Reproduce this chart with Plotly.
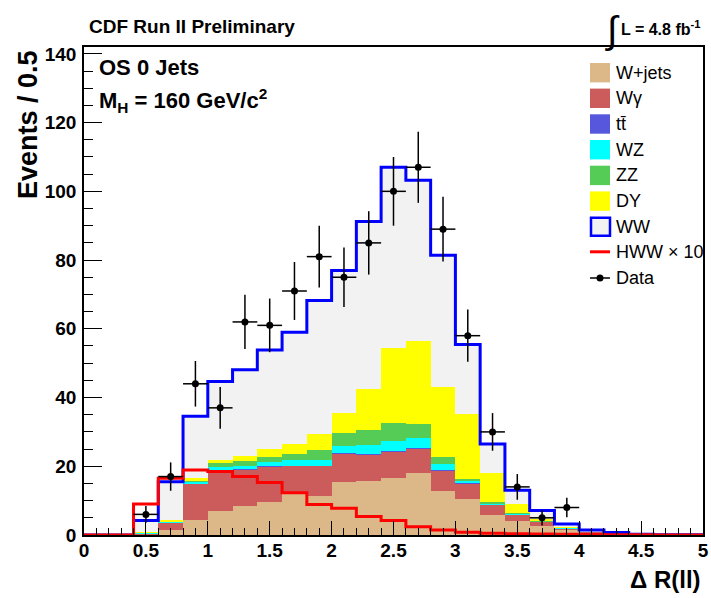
import numpy as np
import plotly.graph_objects as go

# ---------------- data (25 bins of width 0.2 from 0 to 5) ----------------
edges = [round(0.2 * i, 1) for i in range(26)]
centers = [round(0.2 * i + 0.1, 2) for i in range(25)]

w_jets = [0, 0, 0.2, 1.4, 4.5, 7.1, 8.3, 9.5, 11.8, 11.4, 15.3, 15.6, 16.6, 18.0,
          12.9, 10.5, 5.7, 4.1, 2.6, 1.4, 0.6, 0.3, 0.1, 0.05, 0.02]
w_gamma = [0, 0, 0.3, 2.1, 10.4, 11.1, 10.9, 10.5, 8.3, 8.7, 8.4, 7.8, 7.6, 7.3,
           6.0, 4.5, 3.2, 1.9, 1.3, 0.6, 0.3, 0.15, 0.05, 0.03, 0.01]
ttbar = [0, 0, 0.0, 0.05, 0.05, 0.1, 0.1, 0.1, 0.1, 0.1, 0.1, 0.1, 0.1, 0.1,
         0.1, 0.1, 0.05, 0.05, 0.05, 0.0, 0.0, 0.0, 0.0, 0.0, 0.0]
wz = [0, 0, 0.1, 0.25, 0.5, 1.4, 0.8, 1.0, 1.5, 1.6, 2.2, 2.8, 3.1, 2.7,
      1.6, 0.7, 0.35, 0.15, 0.1, 0.1, 0.05, 0.05, 0.0, 0.0, 0.0]
zz = [0, 0, 0.1, 0.2, 0.4, 1.2, 1.3, 1.5, 1.9, 2.9, 3.6, 4.3, 5.2, 4.2,
      2.0, 0.5, 0.2, 0.1, 0.05, 0.05, 0.05, 0.0, 0.0, 0.0, 0.0]
dy = [0, 0, 0.1, 0.4, 0.6, 1.0, 1.5, 2.4, 2.9, 4.7, 5.8, 12.0, 21.7, 24.2,
      20.6, 18.9, 8.6, 2.6, 0.6, 0.25, 0.1, 0.05, 0.05, 0.0, 0.0]
ww = [0, 0, 3.4, 11.1, 18.1, 22.8, 25.2, 28.8, 32.5, 38.8, 41.6, 48.6, 52.7, 46.7,
      38.2, 20.2, 8.4, 4.1, 2.4, 0.8, 0.35, 0.15, 0.05, 0.02, 0.02]
hww_x10 = [0, 0, 9.0, 16.5, 18.9, 18.5, 17.0, 15.3, 12.3, 8.9, 7.8, 5.4, 4.2, 2.4,
           1.45, 0.8, 0.5, 0.4, 0.3, 0.25, 0.15, 0.1, 0.05, 0.03, 0.02]
data = [0, 0, 6, 17, 44, 37, 62, 61, 71, 81, 75, 85, 100, 107,
        89, 58, 30, 14, 5, 8, 0, 0, 0, 0, 0]

x_ticks = [0, 0.5, 1, 1.5, 2, 2.5, 3, 3.5, 4, 4.5, 5]
x_tick_labels = ["0", "0.5", "1", "1.5", "2", "2.5", "3", "3.5", "4", "4.5", "5"]
y_ticks = [0, 20, 40, 60, 80, 100, 120, 140]

components = [
    ("W+jets", w_jets, "#dcb888"),
    ("W\u03b3", w_gamma, "#cc5c5c"),
    ("tt\u0304", ttbar, "#5757dd"),
    ("WZ", wz, "#00ffff"),
    ("ZZ", zz, "#55cc55"),
    ("DY", dy, "#ffff00"),
    ("WW", ww, "#f2f2f2"),
]

FONT = "Liberation Sans, Arial, Helvetica, sans-serif"

fig = go.Figure()
for name, vals, col in components:
    fig.add_trace(go.Bar(x=centers, y=vals, width=0.2, name=name,
                         marker=dict(color=col, line=dict(width=0)),
                         hoverinfo="skip", showlegend=False))

total = np.sum([np.array(v) for _, v, _ in components], axis=0)
fig.add_trace(go.Scatter(x=edges, y=list(total) + [total[-1]], mode="lines",
                         line=dict(color="#0000ff", width=3, shape="hv"),
                         hoverinfo="skip", showlegend=False))
fig.add_trace(go.Scatter(x=edges, y=hww_x10 + [hww_x10[-1]], mode="lines",
                         line=dict(color="#ff0000", width=3, shape="hv"),
                         hoverinfo="skip", showlegend=False))

dx = [c for c, d in zip(centers, data) if d > 0]
dv = [d for d in data if d > 0]
fig.add_trace(go.Scatter(x=dx, y=dv, mode="markers",
                         marker=dict(color="black", size=7, symbol="circle"),
                         error_y=dict(type="data", array=list(np.sqrt(dv)), color="black",
                                      thickness=1.5, width=0),
                         error_x=dict(type="data", array=[0.1] * len(dv), color="black",
                                      thickness=1.5, width=0),
                         hoverinfo="skip", showlegend=False))

# ---------------- layout ----------------
L, R, T, B = 84, 8, 47, 63
W, H = 711, 598
PW, PH = W - L - R, H - T - B


def px(xp):
    return (xp - L) / PW


def py(yp):
    return (H - B - yp) / PH


fig.update_layout(
    width=W, height=H, margin=dict(l=L, r=R, t=T, b=B, autoexpand=False),
    paper_bgcolor="white", plot_bgcolor="white",
    barmode="stack", bargap=0, showlegend=False,
    font=dict(family=FONT, color="black"),
)
fig.update_xaxes(range=[0, 5], tickvals=x_ticks, ticktext=x_tick_labels,
                 ticks="inside", ticklen=14, tickwidth=1, tickcolor="black",
                 minor=dict(dtick=0.1, ticks="inside", ticklen=7, tickwidth=1, tickcolor="black"),
                 showline=True, linecolor="black", linewidth=1.5, mirror=True,
                 showgrid=False, zeroline=False, automargin=False,
                 tickfont=dict(family=FONT, size=19, weight="bold", color="black"),
                 ticklabelstandoff=-3)
fig.update_yaxes(range=[0, 142], tickvals=y_ticks,
                 ticks="inside", ticklen=18, tickwidth=1, tickcolor="black",
                 minor=dict(dtick=5, ticks="inside", ticklen=9, tickwidth=1, tickcolor="black"),
                 showline=True, linecolor="black", linewidth=1.5, mirror=True,
                 showgrid=False, zeroline=False, automargin=False,
                 tickfont=dict(family=FONT, size=19, weight="bold", color="black"),
                 ticklabelstandoff=2)

ann = []


def text(x, y, s, size, bold=True, xanchor="left", yanchor="middle", angle=0):
    ann.append(dict(x=px(x), y=py(y), xref="paper", yref="paper", text=s,
                    showarrow=False, xanchor=xanchor, yanchor=yanchor, textangle=angle,
                    font=dict(family=FONT, size=size, color="black",
                              weight="bold" if bold else "normal")))


text(87, 26, "CDF Run II Preliminary", 19)
text(612, 31, "\u222b", 38, bold=False, xanchor="center")
text(619, 28, "L = 4.8 fb<sup>-1</sup>", 16)
text(97, 67, "OS 0 Jets", 22)
text(97, 100, "M<sub>H</sub> = 160 GeV/c<sup>2</sup>", 22)
text(703, 579, "\u0394 R(ll)", 24, xanchor="right")
text(28, 125, "Events / 0.5", 27, xanchor="center", angle=-90)

shapes = []
rows = [72.7, 98.3, 124.0, 149.7, 175.4, 201.1, 226.8, 251.8, 278.0]
leg_labels = ["W+jets", "W\u03b3", "tt\u0304", "WZ", "ZZ", "DY", "WW", "HWW \u00d7 10", "Data"]
for i, (name, _, col) in enumerate(components):
    yc = rows[i]
    if name == "WW":
        shapes.append(dict(type="rect", xref="paper", yref="paper",
                           x0=px(591), x1=px(610), y0=py(yc - 9), y1=py(yc + 9),
                           fillcolor=col, line=dict(color="#0000ff", width=2.5)))
    else:
        shapes.append(dict(type="rect", xref="paper", yref="paper",
                           x0=px(590), x1=px(610), y0=py(yc - 9.7), y1=py(yc + 9.7),
                           fillcolor=col, line=dict(width=0)))
shapes.append(dict(type="line", xref="paper", yref="paper", x0=px(590), x1=px(610),
                   y0=py(rows[7]), y1=py(rows[7]), line=dict(color="#ff0000", width=3)))
shapes.append(dict(type="line", xref="paper", yref="paper", x0=px(590), x1=px(610),
                   y0=py(rows[8]), y1=py(rows[8]), line=dict(color="black", width=1.5)))
shapes.append(dict(type="circle", xref="paper", yref="paper", x0=px(596.5), x1=px(603.5),
                   y0=py(rows[8] - 3.5), y1=py(rows[8] + 3.5), fillcolor="black",
                   line=dict(color="black", width=0)))
for i, lab in enumerate(leg_labels):
    text(614, rows[i], lab, 18, bold=False)

fig.update_layout(annotations=ann, shapes=shapes)
fig.write_html("out.html", config={"displayModeBar": False},
               post_script="document.body.style.margin='0';document.body.style.overflow='hidden';")
